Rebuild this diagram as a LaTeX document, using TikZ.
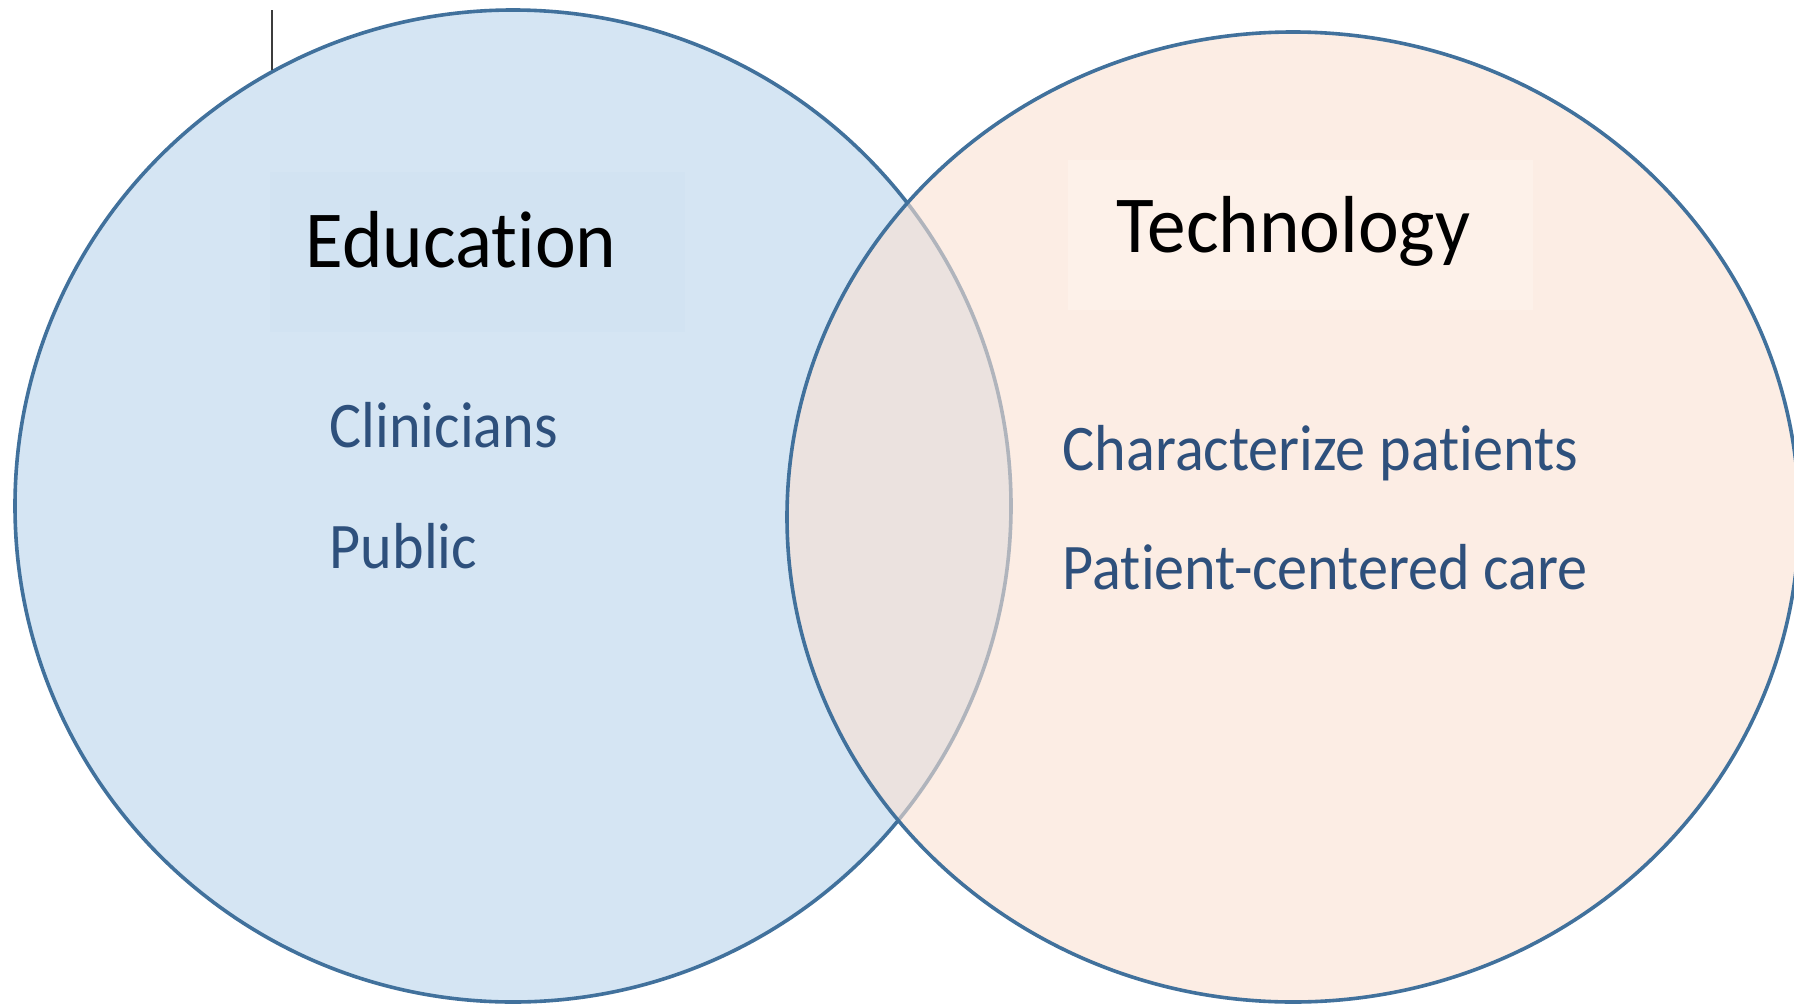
\documentclass[tikz,border=0pt]{standalone}
\usepackage{fontspec}
\setmainfont{Carlito}[Ligatures=NoCommon]
\newfontfamily\titlefont{Carlito}[Ligatures=NoCommon, FakeStretch=0.955]
\newfontfamily\itemfont{Carlito}[Ligatures=NoCommon, FakeStretch=0.925]
\definecolor{ringblue}{RGB}{65,113,156}
\definecolor{leftfill}{RGB}{213,229,243}
\definecolor{rightfill}{RGB}{250,225,210}
\definecolor{edubox}{RGB}{210,227,242}
\definecolor{techbox}{RGB}{253,241,233}
\definecolor{itemblue}{RGB}{46,80,124}
\definecolor{cursor}{RGB}{60,60,60}
\tikzset{
  ring/.style={draw=ringblue, line width=0.036cm},
  titletext/.style={anchor=base west, inner sep=0pt, text=black, font=\titlefont\fontsize{23}{27}\selectfont},
  itemtext/.style={anchor=base west, inner sep=0pt, text=itemblue, font=\itemfont\fontsize{18.5}{22}\selectfont},
  labelbox/.style={draw=none, inner sep=0pt, outer sep=0pt}
}
\begin{document}
\begin{tikzpicture}[x=0.01cm, y=-0.01cm]
\useasboundingbox (0,0) rectangle (1794,1006);
\clip (0,0) rectangle (1794,1006);
\fill[white] (0,0) rectangle (1794,1006);
% left circle
\fill[leftfill] (513,506) ellipse [x radius=498, y radius=496];
\draw[ring] (513,506) ellipse [x radius=498, y radius=496];
% right circle, semi-transparent fill
\fill[rightfill, fill opacity=0.6] (1293,517) ellipse [x radius=506, y radius=485];
\draw[ring] (1293,517) ellipse [x radius=506, y radius=485];
% title boxes
\fill[edubox, labelbox] (270,172) rectangle (685,332);
\fill[techbox, labelbox] (1068,160) rectangle (1533,310);
% text cursor mark
\coordinate (curtop) at (272,10);
\coordinate (curbot) at (272,70);
\draw[cursor, line width=0.02cm] (curtop) -- (curbot);
% titles
\node[titletext] (edu) at (305,267) {Education};
\node[titletext] (tech) at (1116,252) {Technology};
% items
\node[itemtext] (clin) at (329,447) {Clinicians};
\node[itemtext] (pub) at (329,568) {Public};
\node[itemtext] (char) at (1062,470) {Characterize patients};
\node[itemtext] (pcc) at (1062,589) {Patient-centered care};
\end{tikzpicture}
\end{document}
